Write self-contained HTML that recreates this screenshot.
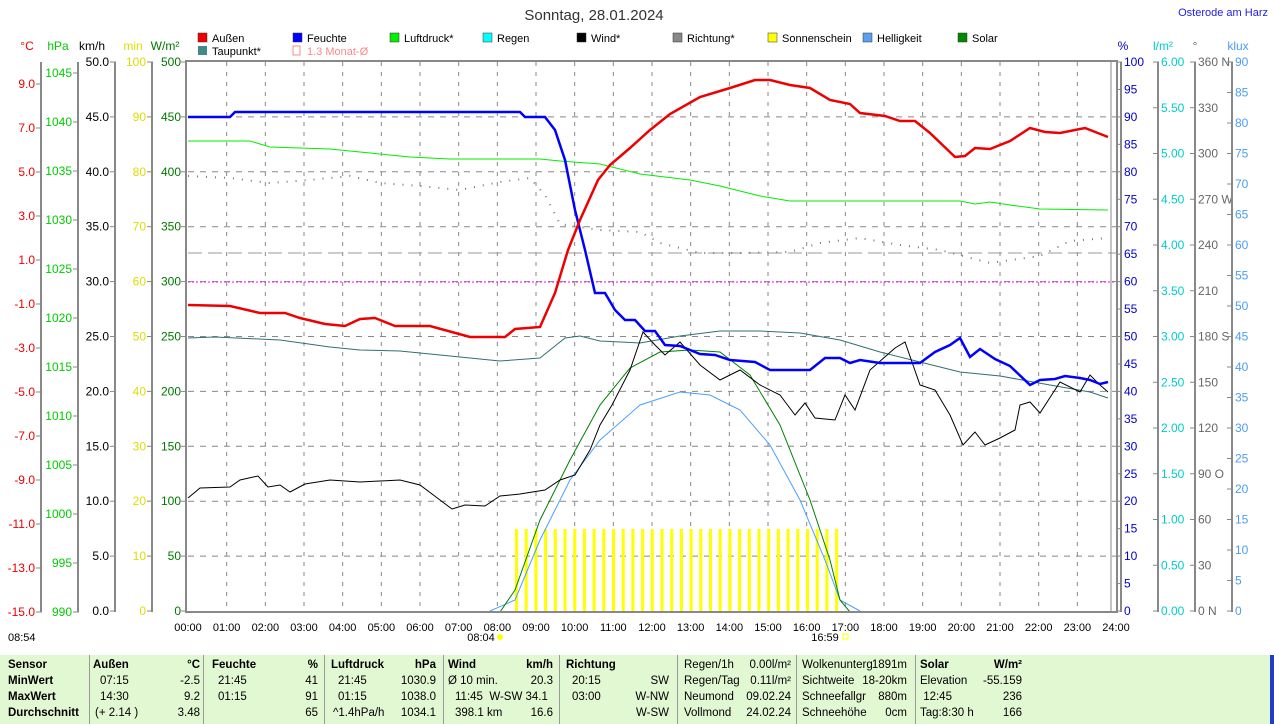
<!DOCTYPE html>
<html><head><meta charset="utf-8"><style>
body{margin:0;background:#fff;font-family:"Liberation Sans",sans-serif}
#tbl{position:absolute;left:0;top:655px;width:1270px;height:69px;background:#e2f8d2;border-right:4px solid #2040c0}
.c{position:absolute;font-size:11.5px;color:#000;white-space:nowrap}
.b{font-weight:bold}
.d{position:absolute;top:0;width:1px;height:69px;background:#999}
</style></head><body>
<svg id="s" width="1274" height="655" style="position:absolute;left:0;top:0" font-family="Liberation Sans, sans-serif" font-size="12"></svg>
<div id="tbl"></div>
<script>
const s=document.getElementById('s');let h='';
const X=t=>188+t*38.667, Y=v=>611-v*1.098;
h+=`<text x="594" y="20" font-size="15" text-anchor="middle" fill="#333">Sonntag, 28.01.2024</text>`;
h+=`<text x="1268" y="16" font-size="11" text-anchor="end" fill="#2020e0">Osterode am Harz</text>`;
for(let v=50;v<500;v+=50)h+=`<line x1="188" x2="1116" y1="${Y(v)}" y2="${Y(v)}" stroke="#888" stroke-dasharray="6,6"/>`;
for(let t=1;t<24;t++)h+=`<line x1="${X(t)}" x2="${X(t)}" y1="62" y2="611" stroke="#888" stroke-dasharray="4,6"/>`;
h+=`<line x1="188" x2="1116" y1="253" y2="253" stroke="#999" stroke-dasharray="14,6"/>`;
h+=`<line x1="188" x2="1116" y1="282" y2="282" stroke="#f0f" stroke-dasharray="2,2"/>`;
for(let x=515;x<=838;x+=9.7)h+=`<rect x="${x}" y="529" width="3" height="82" fill="#ff0"/>`;
const P=(pts,c,w,da)=>{h+=`<polyline fill="none" stroke="${c}" stroke-width="${w}" ${da?'stroke-dasharray="'+da+'"':''} points="${pts}"/>`};
P("490,611 515,600 540,540 570,480 600,440 640,405 680,392 710,395 740,410 770,445 800,500 825,560 840,600 860,611","#4aa0ff",1);
P("500,612 515,590 540,520 570,460 600,405 630,368 660,352 690,350 720,352 750,375 780,425 810,500 830,560 840,600 850,612","#008000",1);
P("188,338 215,337 280,340 330,347 360,350 400,351 460,357 500,361 540,358 565,338 580,336 600,341 640,343 680,336 720,331 760,331 800,333 840,340 880,352 920,362 960,372 1000,376 1050,385 1090,392 1108,398","#307070",1);
P("188,498 200,488 230,487 240,480 258,476 268,487 280,485 290,492 305,484 330,480 360,482 400,480 420,485 440,500 452,509 465,505 485,506 500,496 520,494 545,490 560,480 575,475 590,450 600,425 612,405 630,370 643,332 655,345 665,355 680,342 700,365 720,380 740,370 760,385 780,395 795,415 805,403 815,418 835,420 845,395 855,410 870,370 895,348 905,342 920,385 935,390 950,415 963,445 975,432 985,445 1000,438 1015,430 1020,405 1030,402 1040,413 1060,382 1080,392 1090,375 1100,385 1108,392","#000",1);
P("188,176 230,178 270,183 310,180 350,176 380,183 420,186 460,190 500,182 530,178 545,195 560,224 600,230 640,232 660,243 700,253 740,253 790,252 820,243 860,238 900,245 940,250 990,263 1040,256 1070,241 1108,238","#777",2,"1,8");
P("188,141 250,141 270,147 330,149 370,153 410,157 450,159 540,159 560,161 600,164 640,174 690,180 720,186 760,196 790,201 960,201 975,204 990,202 1010,205 1040,209 1108,210","#0e0",1);
P("188,117 230,117 235,112 520,112 525,117 545,117 555,130 565,160 575,210 585,250 595,293 605,293 615,310 625,320 635,320 645,331 655,331 665,345 680,346 700,354 715,355 730,360 755,362 770,370 810,370 825,358 840,358 850,363 860,360 880,363 920,363 935,352 950,345 960,338 970,357 980,349 995,359 1010,366 1030,385 1040,380 1055,379 1065,376 1080,378 1090,380 1100,384 1108,382","#00f",2.5);
P("188,305 230,306 260,313 285,313 300,318 325,324 345,326 360,319 375,318 395,326 430,326 470,337 505,337 515,329 540,327 555,293 568,250 580,220 598,180 610,165 630,148 650,130 670,114 700,97 730,88 755,80 770,80 790,85 810,88 830,100 850,104 860,113 885,116 900,121 915,121 930,133 955,157 965,156 975,148 990,149 1010,141 1030,128 1045,132 1060,133 1085,128 1108,137","#e00",2.5);
h+=`<rect x="186" y="61" width="931" height="551" fill="none" stroke="#888" stroke-width="2"/>`;
h+=`<line x1="1111" x2="1111" y1="62" y2="611" stroke="#888"/>`;
for(let t=0;t<=24;t++)h+=`<text x="${X(t)}" y="631" text-anchor="middle" font-size="11">${String(t).padStart(2,'0')}:00</text>`;
h+=`<text x="8" y="641" font-size="11">08:54</text><text x="481" y="641" text-anchor="middle" font-size="11">08:04</text><circle cx="500" cy="637" r="3" fill="#ff0"/><text x="825" y="641" text-anchor="middle" font-size="11">16:59</text><rect x="843" y="634" width="5" height="5" fill="none" stroke="#ff0"/>`;
function ax(x,vals,y0,step,col,tickR){h+=`<line x1="${x}" x2="${x}" y1="62" y2="612" stroke="#888" stroke-width="2"/>`;vals.forEach((v,i)=>{const y=y0+i*step;h+=`<line x1="${x-5}" x2="${x+1}" y1="${y}" y2="${y}" stroke="#888"/>`;h+=tickR?`<text x="${x+3}" y="${y+4}" fill="${col}">${v}</text>`:`<text x="${x-6}" y="${y+4}" text-anchor="end" fill="${col}">${v}</text>`;});}
const r=(a,b,st,d)=>{let o=[];for(let v=a;v>=b-1e-9;v-=st)o.push(v.toFixed(d));return o};
ax(41,r(9,-15,2,1),84,44,"#e00");
ax(78,r(1045,990,5,0),73,49,"#0c0");
ax(115,r(50,0,5,1),62,54.9,"#000");
ax(152,r(100,0,10,0),62,54.9,"#dd0");
ax(1121,r(100,0,5,0),62,27.45,"#00c",1);
ax(1158,r(6,0,.5,2),62,45.75,"#0cc",1);
const dg=["360 N","330","300","270 W","240","210","180 S","150","120","90 O","60","30","0 N"];
ax(1195,dg,62,45.75,"#666",1);
ax(1232,r(90,0,5,0),62,30.5,"#4a9ef0",1);
for(let v=500;v>=0;v-=50)h+=`<line x1="181" x2="186" y1="${Y(v)}" y2="${Y(v)}" stroke="#888"/><text x="181" y="${Y(v)+4}" text-anchor="end" fill="#070">${v}</text>`;
[["°C",27,"#e00"],["hPa",58,"#0c0"],["km/h",92,"#000"],["min",133,"#dd0"],["W/m²",165,"#070"],["%",1123,"#00c"],["l/m²",1163,"#0cc"],["°",1195,"#666"],["klux",1238,"#4a9ef0"]].forEach(u=>h+=`<text x="${u[1]}" y="50" text-anchor="middle" fill="${u[2]}">${u[0]}</text>`);
[["Außen",198,"#e00"],["Feuchte",293,"#00f"],["Luftdruck*",390,"#0e0"],["Regen",483,"#0ff"],["Wind*",577,"#000"],["Richtung*",673,"#888"],["Sonnenschein",768,"#ff0"],["Helligkeit",863,"#5aa0f0"],["Solar",958,"#080"]].forEach(l=>h+=`<rect x="${l[1]}" y="33" width="9" height="9" fill="${l[2]}" stroke="#333" stroke-width=".5"/><text x="${l[1]+14}" y="42" font-size="11">${l[0]}</text>`);
h+=`<rect x="198" y="46" width="9" height="9" fill="#488"/><text x="212" y="55" font-size="11">Taupunkt*</text><rect x="293" y="46" width="7" height="9" fill="none" stroke="#f88"/><text x="307" y="55" font-size="11" fill="#f88">1.3 Monat-Ø</text>`;
s.innerHTML=h;
const T=document.getElementById('tbl');let t='';
[89,203,324,443,559,677,796,915].forEach(x=>t+=`<div class="d" style="left:${x}px"></div>`);
const rows=[10,26,42,58];
const cell=(x,r,txt,b,al)=>t+=`<div class="c${b?' b':''}" style="${al?'right:'+(1270-x)+'px':'left:'+x+'px'};top:${rows[r]-6}px">${txt}</div>`;
["Sensor","MinWert","MaxWert","Durchschnitt"].forEach((v,i)=>cell(8,i,v,1));
cell(93,0,"Außen",1);cell(200,0,"°C",1,1);cell(100,1,"07:15");cell(200,1,"-2.5",0,1);cell(100,2,"14:30");cell(200,2,"9.2",0,1);cell(95,3,"(+ 2.14 )");cell(200,3,"3.48",0,1);
cell(212,0,"Feuchte",1);cell(318,0,"%",1,1);cell(218,1,"21:45");cell(318,1,"41",0,1);cell(218,2,"01:15");cell(318,2,"91",0,1);cell(318,3,"65",0,1);
cell(331,0,"Luftdruck",1);cell(436,0,"hPa",1,1);cell(338,1,"21:45");cell(436,1,"1030.9",0,1);cell(338,2,"01:15");cell(436,2,"1038.0",0,1);cell(333,3,"^1.4hPa/h");cell(436,3,"1034.1",0,1);
cell(448,0,"Wind",1);cell(553,0,"km/h",1,1);cell(448,1,"Ø 10 min.");cell(553,1,"20.3",0,1);cell(455,2,"11:45 &nbsp;W-SW 34.1");cell(455,3,"398.1 km");cell(553,3,"16.6",0,1);
cell(566,0,"Richtung",1);cell(572,1,"20:15");cell(669,1,"SW",0,1);cell(572,2,"03:00");cell(669,2,"W-NW",0,1);cell(669,3,"W-SW",0,1);
[["Regen/1h","0.00l/m²"],["Regen/Tag","0.11l/m²"],["Neumond","09.02.24"],["Vollmond","24.02.24"]].forEach((v,i)=>{cell(684,i,v[0]);cell(791,i,v[1],0,1)});
[["Wolkenunterg","1891m"],["Sichtweite","18-20km"],["Schneefallgr","880m"],["Schneehöhe","0cm"]].forEach((v,i)=>{cell(802,i,v[0]);cell(907,i,v[1],0,1)});
cell(920,0,"Solar",1);cell(1022,0,"W/m²",1,1);[["Elevation","-55.159"],["&nbsp;12:45","236"],["Tag:8:30 h","166"]].forEach((v,i)=>{cell(920,i+1,v[0]);cell(1022,i+1,v[1],0,1)});
T.innerHTML=t;
</script>
</body></html>
